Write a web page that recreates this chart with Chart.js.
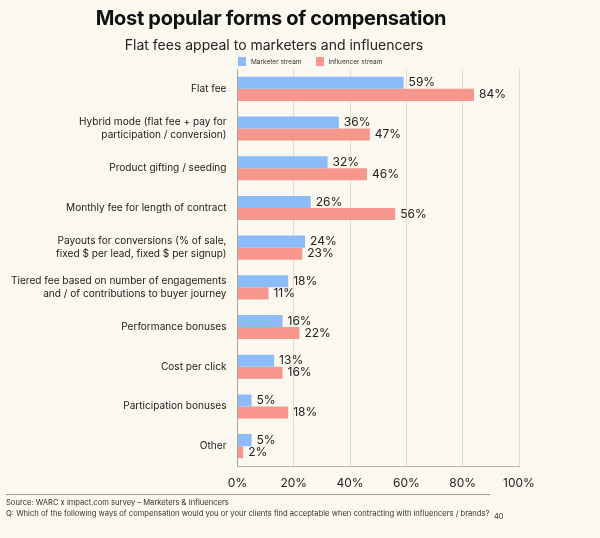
<!DOCTYPE html>
<html>
<head>
<meta charset="utf-8">
<script src="https://cdn.jsdelivr.net/npm/chart.js@4.4.1/dist/chart.umd.min.js"></script>
<style>
    html, body { margin: 0; padding: 0; background: #faf8ef; }
    body { width: 600px; height: 538px; position: relative; overflow: hidden; font-family: Inter, "Noto Sans", sans-serif; color: #111; }
    #chart { position: absolute; left: 0; top: 0; }
    .abs { position: absolute; white-space: nowrap; }
    .title { left: 0; width: 542px; text-align: center; top: 6px; font-size: 20px; font-weight: 700; letter-spacing: -0.3px; }
    .subtitle { left: 0; width: 548px; text-align: center; top: 36px; font-size: 14px; color: #222; }
    .legend { top: 57px; left: 238px; font-size: 6.5px; color: #333; display: flex; align-items: center; }
    .legend .box { display: inline-block; width: 8px; height: 9px; margin-right: 5px; }
    .legend .item { display: flex; align-items: center; margin-right: 14px; }
    .rule { left: 6px; width: 484px; top: 494px; height: 1px; background: #9a9a96; }
    .source { left: 6px; top: 498px; font-size: 7.6px; color: #333; line-height: 10.8px; }
    .page { left: 494px; top: 512px; font-size: 7.5px; color: #333; }
</style>
</head>
<body>
<canvas id="chart" width="600" height="538"></canvas>
<div class="abs title">Most popular forms of compensation</div>
<div class="abs subtitle">Flat fees appeal to marketers and influencers</div>
<div class="abs legend">
    <span class="item"><span class="box" style="background:#8bbcf8"></span>Marketer stream</span>
    <span class="item"><span class="box" style="background:#f6968d"></span>Influencer stream</span>
</div>
<div class="abs rule"></div>
<div class="abs source">Source: WARC x impact.com survey – Marketers &amp; Influencers<br>Q: Which of the following ways of compensation would you or your clients find acceptable when contracting with influencers / brands?</div>
<div class="abs page">40</div>
<script>
const CATEGORIES = [
    'Flat fee',
    ['Hybrid mode (flat fee + pay for', 'participation / conversion)'],
    'Product gifting / seeding',
    'Monthly fee for length of contract',
    ['Payouts for conversions (% of sale,', 'fixed $ per lead, fixed $ per signup)'],
    ['Tiered fee based on number of engagements', 'and / of contributions to buyer journey'],
    'Performance bonuses',
    'Cost per click',
    'Participation bonuses',
    'Other',
];
const MARKETER   = [59, 36, 32, 26, 24, 18, 16, 13, 5, 5];
const INFLUENCER = [84, 47, 46, 56, 23, 11, 22, 16, 18, 2];
const X_TICKS    = [0, 20, 40, 60, 80, 100];

const CHART_LEFT   = 237.5;
const CHART_RIGHT  = 519;
const CHART_TOP    = 69;
const CHART_BOTTOM = 466;

const valueLabels = {
    id: 'valueLabels',
    afterDatasetsDraw(chart) {
        const ctx = chart.ctx;
        ctx.save();
        ctx.font = '12px Inter, "Noto Sans", sans-serif';
        ctx.fillStyle = '#222';
        ctx.textAlign = 'left';
        ctx.textBaseline = 'middle';
        chart.data.datasets.forEach((ds, di) => {
            chart.getDatasetMeta(di).data.forEach((bar, i) => {
                ctx.fillText(ds.data[i] + '%', bar.x + 5, bar.y);
            });
        });
        ctx.restore();
    },
};

new Chart(document.getElementById('chart'), {
    type: 'bar',
    data: {
        labels: CATEGORIES,
        datasets: [
            { label: 'Marketer stream',   data: MARKETER,   backgroundColor: '#8bbcf8' },
            { label: 'Influencer stream', data: INFLUENCER, backgroundColor: '#f6968d' },
        ],
    },
    options: {
        indexAxis: 'y',
        responsive: false,
        animation: false,
        categoryPercentage: 0.607,
        barPercentage: 1,
        layout: { padding: { top: CHART_TOP, right: 600 - CHART_RIGHT, left: 0, bottom: 0 } },
        plugins: { legend: { display: false }, tooltip: { enabled: false } },
        scales: {
            x: {
                min: 0,
                max: 100,
                afterBuildTicks: s => { s.ticks = X_TICKS.map(v => ({ value: v })); },
                afterFit: s => { s.height = 538 - CHART_BOTTOM; },
                grid: { color: '#dddcd3', drawTicks: false },
                border: { color: '#b5b5b0' },
                ticks: {
                    padding: 10,
                    color: '#222',
                    font: { family: 'Inter, "Noto Sans", sans-serif', size: 12 },
                    callback: v => v + '%',
                },
            },
            y: {
                afterFit: s => { s.width = CHART_LEFT; },
                grid: { display: false, drawTicks: false },
                border: { color: '#a9a9a4' },
                ticks: {
                    padding: 11,
                    color: '#222',
                    font: { family: 'Inter, "Noto Sans", sans-serif', size: 10.1, lineHeight: 1.28 },
                },
            },
        },
    },
    plugins: [valueLabels],
});
</script>
</body>
</html>
